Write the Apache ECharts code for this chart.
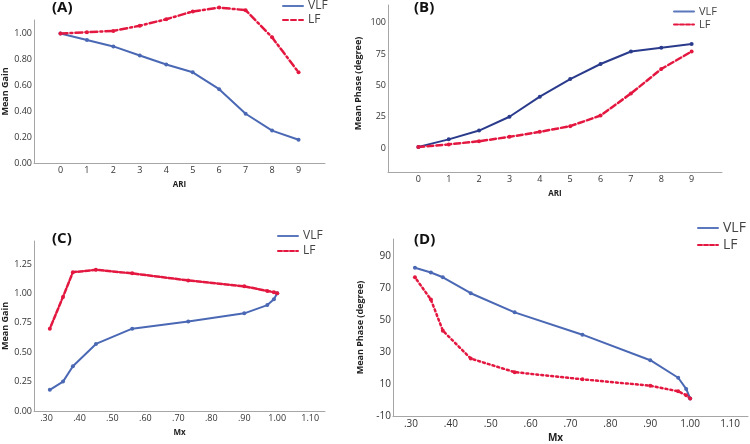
<!DOCTYPE html>
<html>
<head>
<meta charset="utf-8">
<script src="https://cdn.jsdelivr.net/npm/echarts@6/dist/echarts.min.js"></script>
<style>
html, body { margin: 0; padding: 0; background: #fff; }
#chart { width: 750px; height: 444px; }
</style>
</head>
<body>
<div id="chart"></div>
<script>
// values (ARI 0..9, Mx falls as ARI rises)
var ari = [0, 1, 2, 3, 4, 5, 6, 7, 8, 9];
var mx = [1.00, 0.99, 0.97, 0.90, 0.73, 0.56, 0.45, 0.38, 0.35, 0.31];
var gainVLF = [1.00, 0.95, 0.90, 0.83, 0.76, 0.70, 0.57, 0.38, 0.25, 0.18];
var gainLF = [1.00, 1.01, 1.02, 1.06, 1.11, 1.17, 1.20, 1.18, 0.97, 0.70];
var phaseVLF = [1, 7, 14, 25, 41, 55, 67, 77, 80, 83];
var phaseLF = [1, 3, 5.5, 9, 13, 17.5, 26, 43.5, 63, 77];

// tick labels
var ariTicks = [0, 1, 2, 3, 4, 5, 6, 7, 8, 9];
var mxTicks = [0.3, 0.4, 0.5, 0.6, 0.7, 0.8, 0.9, 1.0, 1.1];
var gainTicksA = [0, 0.2, 0.4, 0.6, 0.8, 1.0];
var gainTicksC = [0, 0.25, 0.5, 0.75, 1.0, 1.25];
var phaseTicksB = [0, 25, 50, 75, 100];
var phaseTicksD = [-10, 10, 30, 50, 70, 90];

var BLUE = '#4a68b4';
var NAVY = '#2a3b8c';
var RED = '#e3173f';
var FONT = 'Open Sans';

function zip(xs, ys) {
  return xs.map(function (x, i) { return [x, ys[i]]; });
}
function fmtMx(v) {
  var s = v.toFixed(2);
  return v < 1 ? s.slice(1) : s;
}

function xAxis(grid, min, max, ticks, fmt, name, nameSize, nameGap, fontSize, namePad) {
  return {
    type: 'value', gridIndex: grid, min: min, max: max,
    axisLine: { onZero: false, lineStyle: { color: '#a6a6a6', width: 1 } },
    axisTick: { show: false },
    splitLine: { show: false },
    axisLabel: { customValues: ticks, formatter: fmt, color: '#333', fontSize: fontSize, fontFamily: FONT, margin: 3 },
    name: name, nameLocation: 'middle', nameGap: nameGap,
    nameTextStyle: { fontWeight: 'bold', fontSize: nameSize, color: '#222', fontFamily: FONT, padding: namePad || 0 }
  };
}
function yAxis(grid, min, max, ticks, fmt, name, nameGap, fontSize, namePad) {
  return {
    type: 'value', gridIndex: grid, min: min, max: max,
    axisLine: { show: true, onZero: false, lineStyle: { color: '#a6a6a6', width: 1 } },
    axisTick: { show: false },
    splitLine: { show: false },
    axisLabel: { customValues: ticks, formatter: fmt, color: '#333', fontSize: fontSize, fontFamily: FONT, margin: 2 },
    name: name, nameLocation: 'middle', nameGap: nameGap,
    nameTextStyle: { fontWeight: 'bold', fontSize: 9, color: '#222', fontFamily: FONT, padding: namePad || 0 }
  };
}
function line(name, idx, data, color, dash, width) {
  return {
    name: name, type: 'line', xAxisIndex: idx, yAxisIndex: idx, data: data,
    symbol: 'circle', symbolSize: 4, showSymbol: true, clip: false,
    lineStyle: { color: color, width: width, type: dash, cap: 'round' },
    itemStyle: { color: color }
  };
}
function legend(left, top, fontSize, gap, lfDash) {
  return {
    orient: 'vertical', left: left, top: top, padding: 0,
    itemWidth: 20, itemHeight: fontSize, itemGap: gap,
    textStyle: { fontSize: fontSize, color: '#444', fontFamily: FONT },
    itemStyle: { opacity: 0 },
    data: [
      { name: 'VLF', lineStyle: { color: '#5a78bb', width: 2, type: 'solid' } },
      { name: 'LF', lineStyle: { color: RED, width: 2, type: lfDash } }
    ]
  };
}
function title(text, left, top) {
  return { text: text, left: left, top: top, padding: 0,
    textStyle: { fontSize: 15, fontWeight: 'bold', color: '#111', fontFamily: FONT } };
}

var chart = echarts.init(document.getElementById('chart'));
chart.setOption({
  animation: false,
  title: [title('(A)', 52, 0), title('(B)', 414, 0), title('(C)', 52, 231), title('(D)', 414, 232)],
  legend: [
    legend(282, 0, 12, 2, [5, 3]),
    legend(673, 6, 11, 2, [4, 2]),
    legend(277, 230, 12, 3, [4, 2]),
    legend(697, 221, 14, 3, [4, 2])
  ],
  grid: [
    { left: 32, top: 20, width: 293, height: 143 },
    { left: 388, top: 5, width: 334, height: 167 },
    { left: 32, top: 241, width: 293, height: 170 },
    { left: 393, top: 239, width: 355, height: 177 }
  ],
  xAxis: [
    xAxis(0, -1, 10, ariTicks, '{value}', 'ARI', 8, 18, 9),
    xAxis(1, -1, 10, ariTicks, '{value}', 'ARI', 8, 18, 9),
    xAxis(2, 0.262, 1.145, mxTicks, fmtMx, 'Mx', 8, 18, 9),
    xAxis(3, 0.255, 1.145, mxTicks, fmtMx, 'Mx', 10, 17, 10, [0, 30, 0, 0])
  ],
  yAxis: [
    yAxis(0, 0, 1.104, gainTicksA, function (v) { return v.toFixed(2); }, 'Mean Gain', 24, 9),
    yAxis(1, -19, 114, phaseTicksB, '{value}', 'Mean Phase (degree)', 25, 9, [0, 0, 0, 10]),
    yAxis(2, 0, 1.445, gainTicksC, function (v) { return v.toFixed(2); }, 'Mean Gain', 24, 9),
    yAxis(3, -10, 101, phaseTicksD, '{value}', 'Mean Phase (degree)', 28, 10)
  ],
  series: [
    line('VLF', 0, zip(ari, gainVLF), BLUE, 'solid', 2),
    line('LF', 0, zip(ari, gainLF), RED, [7, 3, 2, 3], 2.5),
    line('VLF', 1, zip(ari, phaseVLF), NAVY, 'solid', 2),
    line('LF', 1, zip(ari, phaseLF), RED, [6, 3], 2.5),
    line('VLF', 2, zip(mx, gainVLF), BLUE, 'solid', 2),
    line('LF', 2, zip(mx, gainLF), RED, [5, 2], 2.5),
    line('VLF', 3, zip(mx, phaseVLF), BLUE, 'solid', 2),
    line('LF', 3, zip(mx, phaseLF), RED, [2, 3], 2.5)
  ]
});
</script>
</body>
</html>
